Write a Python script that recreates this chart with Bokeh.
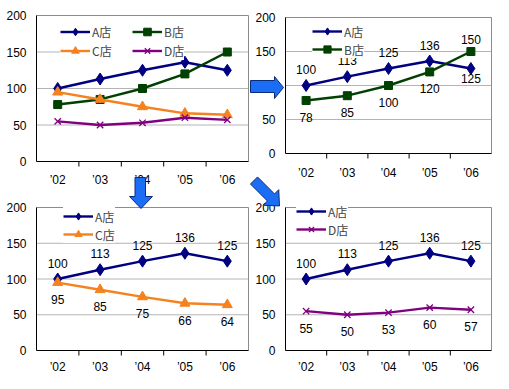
from bokeh.plotting import figure
from bokeh.models import Range1d, Legend, LegendItem
from bokeh.embed import file_html
from bokeh.resources import INLINE
from bokeh.core.properties import value
import numpy as np

# ---------------- data ----------------
years = ["’02", "’03", "’04", "’05", "’06"]
store_a = [100, 113, 125, 136, 125]
store_b = [78, 85, 100, 120, 150]
store_c = [95, 85, 75, 66, 64]
store_d = [55, 50, 53, 60, 57]
y_ticks = [0, 50, 100, 150, 200]
store_names = {"A": "A店", "B": "B店", "C": "C店", "D": "D店"}

FONT_JP = "Noto Sans CJK JP"
FONT_NUM = "Liberation Sans"
W, H = 493, 373           # canvas size (pixels)

series = {
    "A": dict(values=store_a, color="#000080", marker="diamond", size=12),
    "B": dict(values=store_b, color="#004000", marker="square", size=8),
    "C": dict(values=store_c, color="#F5821F", marker="triangle", size=10),
    "D": dict(values=store_d, color="#800080", marker="x", size=9),
}

# panel frames in canvas pixels (left, top, width, height), x-label offset, legend boxes
panels = [
    dict(stores=["A", "B", "C", "D"], frame=(36, 15, 212, 146), xlab=18, labels=None,
         legends=[dict(keys=["A", "C"], left=60, top=17.5, pitch=19, lw=40),
                  dict(keys=["B", "D"], left=132, top=17.5, pitch=19, lw=0)]),
    dict(stores=["A", "B"], frame=(285, 17, 206, 136), xlab=19,
         labels={"A": ["a", "a", "a", "a", "b2"], "B": ["b", "b", "b", "b", "a2"]},
         legends=[dict(keys=["A", "B"], left=312, top=18, pitch=18, lw=0)]),
    dict(stores=["A", "C"], frame=(36, 207, 212, 143), xlab=16,
         labels={"A": ["a"] * 5, "C": ["b"] * 5},
         legends=[dict(keys=["A", "C"], left=63, top=203, pitch=18, lw=0)]),
    dict(stores=["A", "D"], frame=(285, 207, 206, 143), xlab=16,
         labels={"A": ["a"] * 5, "D": ["b"] * 5},
         legends=[dict(keys=["A", "D"], left=296, top=198, pitch=18, lw=0)]),
]
offsets = {"a": -16, "b": 17, "a2": -12, "b2": 10}
PAD = 2

# decorative arrows (canvas pixels)
right_arrow = [(250, 80), (274, 80), (274, 76), (283, 87), (274, 98), (274, 92), (250, 92)]
down_arrow = [(134.5, 177), (145, 177), (145, 196), (152, 196), (140.5, 208), (129, 196), (134.5, 196)]
_tail = np.array([253.5, 180])
_u = np.array([0.7071, 0.7071])
_v = np.array([0.7071, -0.7071])
diag_arrow = [tuple(_tail + a * _u + b * _v) for a, b in
              [(0, -5), (24, -5), (24, -11), (36, 0), (24, 11), (24, 5), (0, 5)]]
arrows = [right_arrow, down_arrow, diag_arrow]

xs = [i + 0.5 for i in range(len(years))]
n = len(years)

p = figure(width=W, height=H, output_backend="svg", toolbar_location=None,
           x_range=Range1d(0, W), y_range=Range1d(H, 0),
           x_axis_type=None, y_axis_type=None, min_border=0)
p.min_border_left = p.min_border_right = p.min_border_top = p.min_border_bottom = 0
p.outline_line_color = None
p.background_fill_color = "white"
p.border_fill_color = "white"
p.grid.visible = False

txt = dict(text_font=value(FONT_NUM), text_font_size="12px", text_color="black")

for cfg in panels:
    l, t, w, h = cfg["frame"]
    sub = p.subplot(x_source=Range1d(0, n), y_source=Range1d(0, 200),
                    x_target=Range1d(l, l + w), y_target=Range1d(t + h, t))
    inner = [v for v in y_ticks if 0 < v < 200]
    # gridlines
    sub.segment(x0=[0] * len(inner), y0=inner, x1=[n] * len(inner), y1=inner,
                line_color="#b4b4b4", line_width=1)
    # plot-area border (top / right)
    sub.segment(x0=[0, n], y0=[200, 0], x1=[n, n], y1=[200, 200],
                line_color="#8c8c8c", line_width=1)
    # axes
    sub.segment(x0=[0, 0], y0=[0, 0], x1=[0, n], y1=[200, 0], line_color="black", line_width=1)
    # category-boundary ticks
    sub.ray(x=list(range(1, n)), y=[0] * (n - 1), length=5, length_units="screen",
            angle=-np.pi / 2, line_color="black", line_width=1)
    # tick labels
    sub.text(x=[0] * len(y_ticks), y=y_ticks, text=[str(v) for v in y_ticks],
             x_offset=-10, text_align="right", text_baseline="middle", **txt)
    sub.text(x=xs, y=[0] * n, text=years, y_offset=cfg["xlab"],
             text_align="center", text_baseline="middle", **txt)

    items = {}
    for key in cfg["stores"]:
        s = series[key]
        lr = sub.line(xs, s["values"], line_color=s["color"], line_width=2.4)
        mk = dict(marker=s["marker"], size=s["size"], line_color=s["color"], fill_color=s["color"])
        if s["marker"] == "x":
            mk["line_width"] = 1.3
        sr = sub.scatter(xs, s["values"], **mk)
        items[key] = LegendItem(label=store_names[key], renderers=[lr, sr])
        if cfg["labels"]:
            yoff = [offsets[k] for k in cfg["labels"][key]]
            sub.text(x=xs, y=s["values"], text=[str(v) for v in s["values"]], y_offset=yoff,
                     text_align="center", text_baseline="middle", level="overlay", **txt)

    for lg in cfg["legends"]:
        pitch = lg["pitch"]
        nrows = len(lg["keys"])
        bottom = lg["top"] + 2 * PAD + nrows * pitch
        leg = Legend(items=[items[k] for k in lg["keys"]],
                     location=(lg["left"], H - bottom),
                     padding=PAD, margin=0, spacing=0, glyph_width=30, glyph_height=pitch,
                     label_height=pitch, label_width=lg["lw"], label_standoff=2,
                     label_text_font=FONT_JP, label_text_font_size="12px",
                     background_fill_color="white", background_fill_alpha=1,
                     border_line_color=None)
        p.add_layout(leg)

p.patches(xs=[[pt[0] for pt in a] for a in arrows], ys=[[pt[1] for pt in a] for a in arrows],
          fill_color="#1A6EF5", line_color="#0A2A7A", line_width=1)

with open("out.html", "w") as f:
    f.write(file_html(p, INLINE))
